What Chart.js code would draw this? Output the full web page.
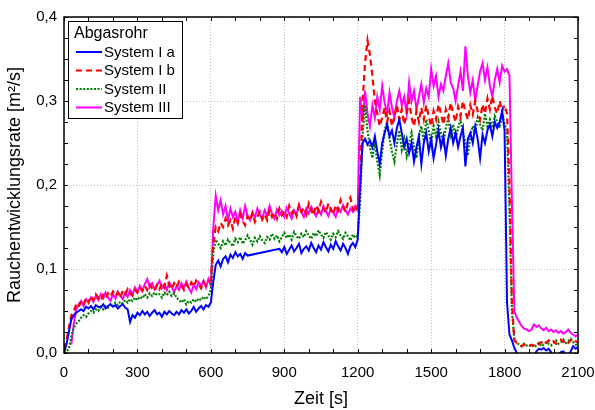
<!DOCTYPE html>
<html><head><meta charset="utf-8">
<script src="https://cdn.jsdelivr.net/npm/chart.js@4/dist/chart.umd.min.js"></script>
<style>html,body{margin:0;padding:0;background:#fff}#wrap{width:595px;height:410px}</style>
</head><body><div id="wrap"><canvas id="c" width="595" height="410"></canvas></div>
<script>
// time axis: samples every 10 s from 0 to 2100 s
const times = [];
for (let t = 0; t <= 2100; t += 10) times.push(t);

const seriesNames = ['System I a', 'System I b', 'System II', 'System III'];
const legendTitle = 'Abgasrohr';
const xTicks = [0, 300, 600, 900, 1200, 1500, 1800, 2100];
const yTicks = [0, 0.1, 0.2, 0.3, 0.4];

const systemIa = [
 0.000,0.010,0.025,0.040,0.045,0.048,0.050,0.052,0.050,0.055,
 0.053,0.056,0.052,0.057,0.055,0.054,0.058,0.053,0.056,0.058,
 0.055,0.057,0.053,0.056,0.058,0.054,0.052,0.037,0.045,0.042,
 0.048,0.045,0.050,0.046,0.049,0.044,0.048,0.051,0.046,0.048,
 0.043,0.049,0.046,0.050,0.047,0.045,0.049,0.046,0.051,0.048,
 0.052,0.047,0.050,0.055,0.049,0.053,0.056,0.052,0.057,0.055,
 0.060,0.085,0.105,0.110,0.103,0.112,0.115,0.108,0.117,0.113,
 0.120,0.115,0.118,0.112,0.119,0.116,null,null,null,null,
 null,null,null,null,null,null,null,null,0.124,0.120,
 0.126,0.118,0.123,0.128,0.121,0.125,0.130,0.119,0.124,0.127,
 0.122,0.131,0.125,0.120,0.128,0.123,0.132,0.126,0.121,0.129,
 0.124,0.133,0.127,0.122,0.130,0.125,0.118,0.127,0.131,0.126,
 0.135,0.200,0.250,0.255,0.248,0.253,0.245,0.258,0.240,0.225,
 0.250,0.262,0.272,0.258,0.265,0.250,0.268,0.278,0.262,0.245,
 0.255,0.238,0.250,0.228,0.245,0.258,0.225,0.250,0.262,0.240,
 0.255,0.232,0.248,0.265,0.245,0.258,0.235,0.255,0.268,0.250,
 0.262,0.245,0.258,0.268,0.222,0.255,0.262,0.250,0.270,0.255,
 0.232,0.260,0.250,0.265,0.272,0.258,0.275,0.268,0.275,0.288,
 0.265,0.060,0.022,0.015,0.006,0.000,-0.005,-0.008,-0.006,-0.009,
 -0.007,-0.006,-0.005,0.002,0.005,0.004,0.006,0.003,0.005,0.001,
 -0.004,-0.006,-0.003,0.001,0.002,-0.002,-0.004,0.002,0.008,0.005,
 0.007
];

const systemIb = [
 0.005,0.015,0.030,0.045,0.050,0.058,0.055,0.062,0.058,0.065,
 0.060,0.068,0.063,0.070,0.066,0.062,0.069,0.065,0.071,0.067,
 0.073,0.068,0.072,0.066,0.074,0.070,0.076,0.071,0.068,0.075,
 0.072,0.078,0.074,0.080,0.075,0.082,0.077,0.074,0.081,0.076,
 0.083,0.078,0.092,0.080,0.076,0.083,0.078,0.085,0.080,0.075,
 0.082,0.077,0.084,0.079,0.086,0.081,0.077,0.085,0.080,0.083,
 0.088,0.130,0.150,0.145,0.155,0.150,0.160,0.152,0.158,0.148,
 0.162,0.155,0.165,0.157,0.152,0.163,0.158,0.166,0.156,0.162,
 0.168,0.159,0.165,0.158,0.170,0.162,0.167,0.160,0.172,0.164,
 0.169,0.162,0.175,0.166,0.171,0.163,0.176,0.168,0.173,0.165,
 0.178,0.170,0.164,0.176,0.169,0.180,0.172,0.167,0.178,0.171,
 0.165,0.176,0.170,0.182,0.174,0.168,0.179,0.185,0.172,0.167,
 0.175,0.200,0.300,0.345,0.372,0.355,0.330,0.300,0.285,0.270,
 0.280,0.292,0.275,0.288,0.270,0.282,0.295,0.278,0.290,0.272,
 0.285,0.300,0.280,0.270,0.288,0.275,0.292,0.278,0.295,0.282,
 0.270,0.288,0.278,0.296,0.285,0.272,0.290,0.280,0.298,0.285,
 0.275,0.293,0.282,0.300,0.287,0.278,0.295,0.284,0.300,0.288,
 0.278,0.296,0.285,0.303,0.290,0.306,0.292,0.285,0.300,0.288,
 0.295,0.285,0.200,0.060,0.015,0.012,0.010,0.008,0.010,0.009,
 0.008,0.010,0.009,0.008,0.011,0.013,0.010,0.012,0.015,0.012,
 0.014,0.011,0.013,0.016,0.013,0.015,0.012,0.015,0.017,0.014,
 0.012
];

const systemII = [
 0.000,0.002,0.005,0.020,0.030,0.035,0.038,0.042,0.045,0.043,
 0.047,0.050,0.048,0.052,0.050,0.055,0.052,0.056,0.054,0.058,
 0.056,0.060,0.057,0.061,0.059,0.063,0.060,0.064,0.062,0.066,
 0.063,0.067,0.065,0.070,0.066,0.071,0.068,0.072,0.069,0.070,
 0.066,0.072,0.069,0.073,0.068,0.071,0.066,0.063,0.060,0.064,
 0.058,0.062,0.060,0.064,0.061,0.065,0.063,0.067,0.064,0.068,
 0.075,0.120,0.135,0.130,0.125,0.133,0.128,0.135,0.131,0.127,
 0.136,0.132,0.138,0.130,0.134,0.140,0.135,0.129,0.137,0.133,
 0.139,0.134,0.131,0.138,0.135,0.142,0.136,0.140,0.133,0.138,
 0.143,0.137,0.141,0.135,0.144,0.139,0.136,0.142,0.138,0.145,
 0.140,0.136,0.143,0.139,0.146,0.141,0.137,0.144,0.140,0.135,
 0.142,0.138,0.145,0.140,0.136,0.143,0.139,0.134,0.141,0.137,
 0.140,0.180,0.260,0.295,0.265,0.245,0.232,0.250,0.228,0.212,
 0.240,0.265,0.275,0.255,0.240,0.228,0.248,0.265,0.242,0.255,
 0.235,0.250,0.262,0.245,0.232,0.258,0.270,0.252,0.278,0.265,
 0.248,0.270,0.258,0.275,0.262,0.250,0.268,0.280,0.260,0.272,
 0.255,0.268,0.278,0.262,0.250,0.235,0.258,0.270,0.262,0.280,
 0.272,0.265,0.285,0.270,0.278,0.268,0.282,0.275,0.268,0.285,
 0.272,0.265,0.170,0.050,0.016,0.012,0.010,0.008,0.011,0.009,
 0.008,0.010,0.007,0.009,0.012,0.008,0.010,0.013,0.011,0.009,
 0.012,0.015,0.011,0.013,0.016,0.012,0.014,0.017,0.013,0.010,
 0.008
];

const systemIII = [
 null,null,null,0.010,0.035,0.052,0.058,0.062,0.056,0.064,
 0.060,0.066,0.061,0.068,0.063,0.070,0.065,0.072,0.066,0.062,
 0.070,0.065,0.073,0.068,0.064,0.072,0.067,0.075,0.070,0.078,
 0.072,0.080,0.074,0.082,0.088,0.078,0.083,0.076,0.081,0.086,
 0.077,0.082,0.075,0.084,0.079,0.072,0.080,0.075,0.083,0.078,
 0.085,0.077,0.072,0.081,0.076,0.084,0.080,0.086,0.078,0.088,
 0.080,0.150,0.187,0.170,0.182,0.165,0.175,0.158,0.172,0.162,
 0.168,0.155,0.170,0.160,0.175,0.163,0.158,0.168,0.161,0.172,
 0.165,0.160,0.170,0.163,0.175,0.166,0.160,0.171,0.164,0.169,
 0.162,0.173,0.166,0.160,0.170,0.165,0.176,0.168,0.162,0.172,
 0.166,0.174,0.168,0.163,0.171,0.165,0.175,0.169,0.163,0.172,
 0.167,0.162,0.173,0.168,0.176,0.170,0.165,0.172,0.168,0.175,
 0.170,0.305,0.275,0.312,0.285,0.270,0.295,0.280,0.305,0.290,
 0.318,0.298,0.285,0.310,0.292,0.280,0.300,0.312,0.295,0.305,
 0.285,0.322,0.300,0.312,0.290,0.305,0.320,0.298,0.315,0.305,
 0.338,0.318,0.330,0.305,0.320,0.312,0.330,0.345,0.322,0.315,
 0.300,0.318,0.335,0.312,0.365,0.330,0.310,0.325,0.300,0.318,
 0.335,0.345,0.325,0.340,0.318,0.305,0.325,0.338,0.322,0.342,
 0.335,0.338,0.330,0.180,0.050,0.042,0.037,0.032,0.029,0.028,
 0.026,0.028,0.034,0.031,0.033,0.029,0.027,0.030,0.026,0.028,
 0.025,0.027,0.024,0.026,0.023,0.025,0.028,0.024,0.022,0.020,
 0.022
];

const FONT = '"Liberation Sans", Arial, sans-serif';
const toXY = vals => vals.map((v, i) => ({x: times[i], y: v}));

const styles = [
  {color: '#0000ff', dash: [], width: 2},
  {color: '#ff0000', dash: [6, 4], width: 2.2},
  {color: '#008000', dash: [2, 1.6], width: 2.2},
  {color: '#ff00ff', dash: [], width: 2}
];
const allSeries = [systemIa, systemIb, systemII, systemIII];

const framePlugin = {
  id: 'frame',
  afterDatasetsDraw(chart) {
    const {ctx, chartArea: a, scales: {x, y}} = chart;
    ctx.save();
    ctx.strokeStyle = '#000';
    ctx.lineWidth = 1;
    ctx.beginPath();
    for (let v = 0; v <= 2100; v += 100) {
      const p = Math.round(x.getPixelForValue(v)) + 0.5;
      ctx.moveTo(p, a.bottom); ctx.lineTo(p, a.bottom - 4);
      ctx.moveTo(p, a.top); ctx.lineTo(p, a.top + 4);
    }
    for (let k = 0; k <= 16; k++) {
      const p = Math.round(y.getPixelForValue(k * 0.025)) + 0.5;
      ctx.moveTo(a.left, p); ctx.lineTo(a.left + 4, p);
      ctx.moveTo(a.right, p); ctx.lineTo(a.right - 4, p);
    }
    ctx.stroke();
    ctx.lineWidth = 1.5;
    ctx.strokeRect(a.left, a.top, a.right - a.left, a.bottom - a.top);

    // legend box
    const bx = a.left + 4, by = a.top + 4, bw = 114, bh = 97;
    ctx.fillStyle = '#fff';
    ctx.fillRect(bx, by, bw, bh);
    ctx.lineWidth = 1;
    ctx.strokeRect(bx + 0.5, by + 0.5, bw, bh);
    ctx.fillStyle = '#000';
    ctx.textBaseline = 'middle';
    ctx.textAlign = 'left';
    ctx.font = '16px ' + FONT;
    ctx.fillText(legendTitle, bx + 6, by + 13);
    ctx.font = '15px ' + FONT;
    chart.data.datasets.forEach((ds, i) => {
      const cy = by + 31 + i * 18.5;
      ctx.save();
      ctx.strokeStyle = ds.borderColor;
      ctx.lineWidth = ds.borderWidth;
      ctx.setLineDash(ds.borderDash || []);
      ctx.beginPath();
      ctx.moveTo(bx + 8, cy); ctx.lineTo(bx + 34, cy);
      ctx.stroke();
      ctx.restore();
      ctx.fillStyle = '#000';
      ctx.fillText(ds.label, bx + 36, cy + 0.5);
    });
    ctx.restore();
  }
};

new Chart(document.getElementById('c'), {
  type: 'line',
  data: {
    datasets: allSeries.map((vals, i) => ({
      label: seriesNames[i],
      data: toXY(vals),
      borderColor: styles[i].color,
      borderDash: styles[i].dash,
      borderWidth: styles[i].width,
      pointRadius: 0,
      tension: 0,
      fill: false,
      spanGaps: true
    }))
  },
  options: {
    responsive: false,
    animation: false,
    layout: {padding: {top: 17, right: 17, left: 0, bottom: 0}},
    plugins: {legend: {display: false}, tooltip: {enabled: false}},
    scales: {
      x: {
        type: 'linear', min: 0, max: 2100,
        afterBuildTicks: s => { s.ticks = xTicks.map(v => ({value: v})); },
        afterFit: s => { s.height = 57; s.paddingLeft = 0; s.paddingRight = 0; },
        ticks: {color: '#000', font: {family: FONT, size: 15}, padding: 11, maxRotation: 0,
                callback: v => String(v)},
        grid: {color: '#c0c0c0', lineWidth: 1, drawTicks: false},
        border: {display: false, dash: [1, 2]},
        title: {display: true, text: 'Zeit [s]', color: '#000',
                font: {family: FONT, size: 18}, padding: {top: 0, bottom: 0}}
      },
      y: {
        type: 'linear', min: 0, max: 0.4,
        afterBuildTicks: s => { s.ticks = yTicks.map(v => ({value: v})); },
        afterFit: s => { s.width = 64; s.paddingTop = 0; s.paddingBottom = 0; },
        ticks: {color: '#000', font: {family: FONT, size: 15}, padding: 7,
                callback: v => v.toFixed(1).replace('.', ',')},
        grid: {color: '#c0c0c0', lineWidth: 1, drawTicks: false},
        border: {display: false, dash: [1, 2]},
        title: {display: true, text: 'Rauchentwicklungsrate [m²/s]', color: '#000',
                font: {family: FONT, size: 18}, padding: {top: 4, bottom: 0}}
      }
    }
  },
  plugins: [framePlugin]
});
</script>
</body></html>
